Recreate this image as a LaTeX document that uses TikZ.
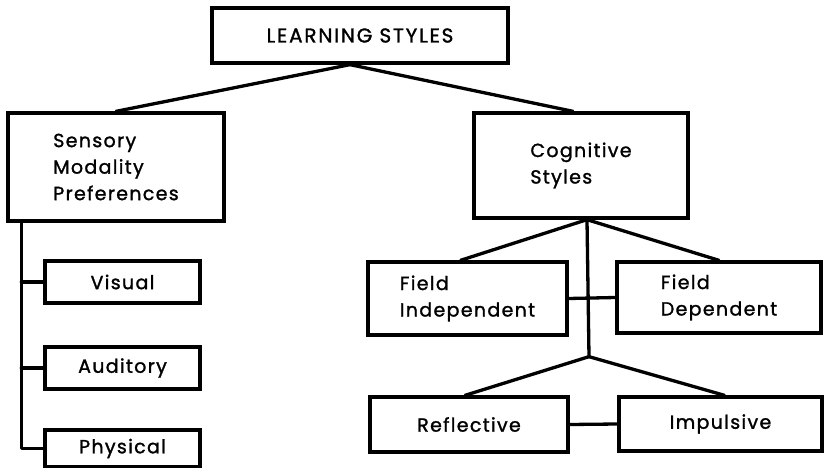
\documentclass[tikz,border=0pt]{standalone}
\usepackage{fontspec}
\setmainfont{Poppins}[FakeBold=1.4,LetterSpace=7]
\newfontfamily\titlefont{Poppins}[FakeBold=1.4,LetterSpace=9]
\usetikzlibrary{calc}
\begin{document}
\begin{tikzpicture}[x=1pt,y=-1pt,
  box/.style={draw,line width=3.3pt,rectangle,inner sep=0pt,align=left,
    font=\fontsize{19}{26.5}\selectfont},
  link/.style={line width=3.3pt,line cap=round,line join=round}]
\useasboundingbox (0,0) rectangle (825,468);
\node[box,minimum width=296pt,minimum height=55pt,font=\titlefont\fontsize{20}{24}\selectfont] (top) at (360,35.5) {LEARNING STYLES};
\node[box,minimum width=216pt,minimum height=108pt] (sens) at (116,167) {Sensory\\Modality\\Preferences};
\node[box,minimum width=214pt,minimum height=105pt] (cog) at (581,165.5) {Cognitive\\Styles};
\node[box,minimum width=155pt,minimum height=42pt] (vis) at (122.5,282) {Visual};
\node[box,minimum width=155pt,minimum height=42pt] (aud) at (122.5,368) {Auditory};
\node[box,minimum width=155pt,minimum height=37pt] (phy) at (122.5,448.5) {Physical};
\node[box,minimum width=199pt,minimum height=73pt] (fi) at (467.5,298.5) {Field\\Independent};
\node[box,minimum width=204pt,minimum height=71pt] (fd) at (719,297.5) {Field\\Dependent};
\node[box,minimum width=198pt,minimum height=55pt] (ref) at (469,424.5) {Reflective};
\node[box,minimum width=203pt,minimum height=54pt] (imp) at (720.5,424) {Impulsive};
\coordinate (tj) at ($(top.south)+(-10,0)$);
\coordinate (cj) at ($(cog.south)+(6,0)$);
\coordinate (j) at ($(cog.south)+(8,137)$);
\coordinate (sp) at ($(sens.south west)+(15,0)$);
\draw[link] (tj) -- (sens.north);
\draw[link] (tj) -- ($(cog.north)+(-8,0)$);
\draw[link] (cj) -- ($(fi.north)+(-7,0)$);
\draw[link] (cj) -- (fd.north);
\draw[link] (cj) -- (j);
\draw[link] (j) -- ($(ref.north)+(-4,0)$);
\draw[link] (j) -- ($(imp.north)+(4,0)$);
\draw[link] (fi.east) -- (fd.west);
\draw[link] (ref.east) -- (imp.west);
\draw[link] (sp) |- (phy.west);
\draw[link] (vis.west) -- (vis.west -| sp);
\draw[link] (aud.west) -- (aud.west -| sp);
\end{tikzpicture}
\end{document}
